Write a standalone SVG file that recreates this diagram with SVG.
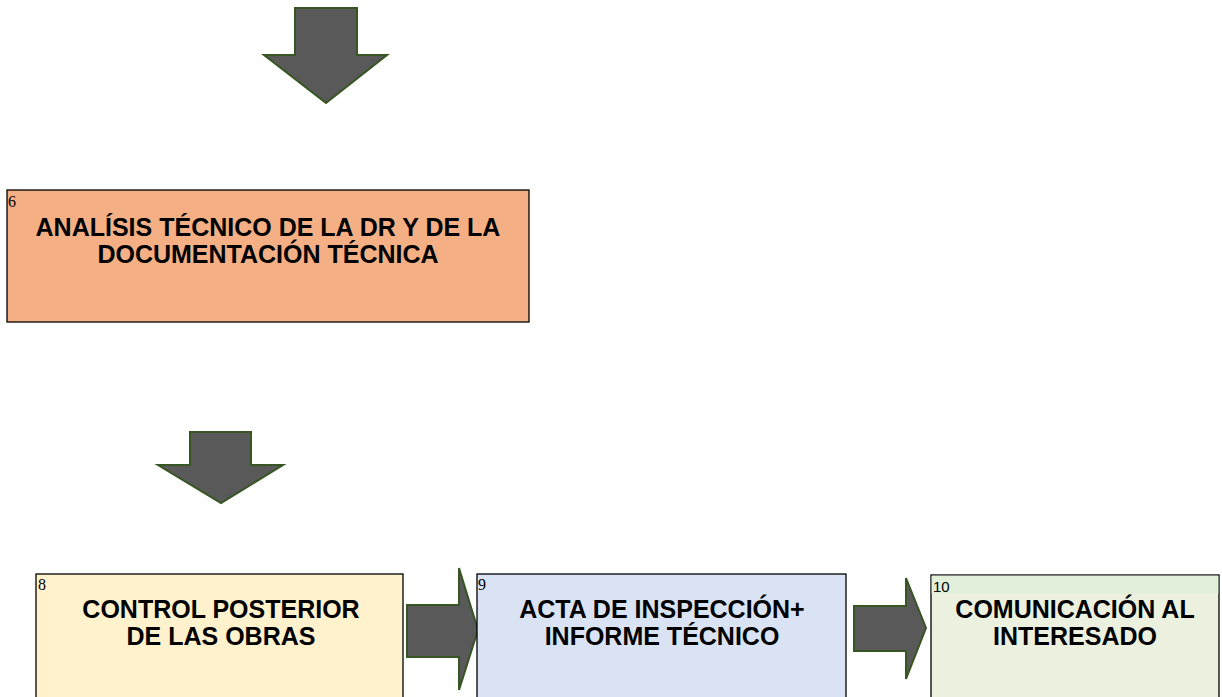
<svg xmlns="http://www.w3.org/2000/svg" width="1222" height="697" viewBox="0 0 1222 697">
<style>
.box{stroke:#000;stroke-width:1.3}
.arr{fill:#595959;stroke:#375623;stroke-width:2;stroke-linejoin:miter}
.t{font-family:"Liberation Sans",Arial,sans-serif;font-weight:bold;font-size:25px;text-anchor:middle;fill:#000}
.n{font-family:"Liberation Serif","Times New Roman",serif;font-size:16px;fill:#000}
.ns{font-family:"Liberation Sans",Arial,sans-serif;font-size:15px;fill:#000}
</style>
<rect width="1222" height="697" fill="#fff"/>
<g id="connectors">
<polygon class="arr" points="295,8 357,8 357,55 387,55 326,103 264,55 295,55"/>
<polygon class="arr" points="190,432 251,432 251,465 283,465 221,503 158,465 190,465"/>
<polygon class="arr" points="407,605 459,605 459,568 478,630 459,690 459,657 407,657"/>
<polygon class="arr" points="854,606 906,606 906,578 926,628 906,679 906,651 854,651"/>
</g>
<g id="node6">
<rect class="box" x="7" y="190" width="522" height="132" fill="#F4B084"/>
<text class="n" x="8" y="207">6</text>
<text class="t" x="268" y="236">ANALÍSIS TÉCNICO DE LA DR Y DE LA</text>
<text class="t" x="268" y="263">DOCUMENTACIÓN TÉCNICA</text>
</g>
<g id="node8">
<rect class="box" x="36" y="574" width="367" height="140" fill="#FFF2CC"/>
<text class="n" x="38" y="590">8</text>
<text class="t" x="221" y="618">CONTROL POSTERIOR</text>
<text class="t" x="221" y="645">DE LAS OBRAS</text>
</g>
<g id="node9">
<rect class="box" x="477" y="574" width="369" height="140" fill="#DAE3F3"/>
<text class="n" x="478" y="590">9</text>
<text class="t" x="662" y="618">ACTA DE INSPECCIÓN+</text>
<text class="t" x="662" y="645">INFORME TÉCNICO</text>
</g>
<g id="node10">
<rect class="box" x="931" y="575" width="288" height="140" fill="#EBF1DE"/>
<rect x="931.7" y="575.7" width="286.6" height="18" fill="#E2EFDA"/>
<text class="ns" x="933" y="592">10</text>
<text class="t" x="1075" y="618">COMUNICACIÓN AL</text>
<text class="t" x="1075" y="645">INTERESADO</text>
</g>
</svg>
